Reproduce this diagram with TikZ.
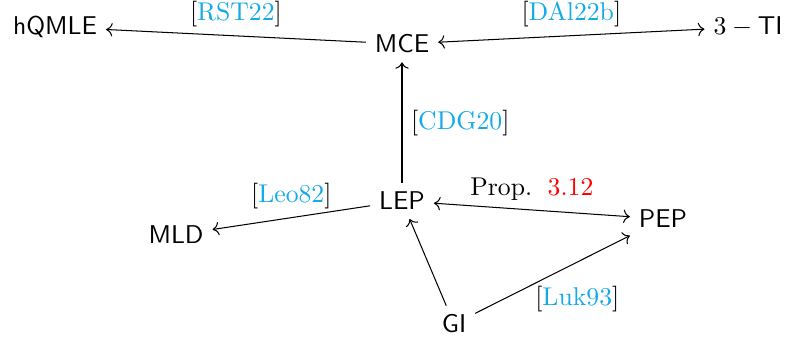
\documentclass[tikz,border=0pt]{standalone}
\usetikzlibrary{arrows.meta}
\definecolor{citeblue}{RGB}{20,170,230}
\newcommand\cit[1]{[\textcolor{citeblue}{#1}]}
\begin{document}
\begin{tikzpicture}[x=0.389pt,y=-0.389pt,
  obj/.style={font=\sffamily},
  lbl/.style={font=\rmfamily},
  link/.style={->},
  dlink/.style={<->}]
\useasboundingbox (0,0) rectangle (785,339);
% concepts
\node[obj] (hqmle) at (55,27)  {hQMLE};
\node[obj] (mce)   at (402,44) {MCE};
\node[obj] (ti)    at (748,27) {$3-\mathsf{TI}$};
\node[obj] (lep)   at (402,201) {LEP};
\node[obj] (mld)   at (176,235) {MLD};
\node[obj] (pep)   at (663,219) {PEP};
\node[obj] (gi)    at (454,324) {GI};
% implications
\draw[link] (mce) -- node[lbl, above] (l1) {\cit{RST22}} (hqmle);
\draw[dlink] (mce) -- node[lbl, above] (l2) {\cit{DAl22b}} (ti);
\draw[link] (lep) -- node[lbl, right] (l3) {\cit{CDG20}} (mce);
\draw[link] (lep) -- node[lbl, above] (l4) {\cit{Leo82}} (mld);
\draw[dlink] (lep) -- node[lbl, above] (l5) {Prop.\hspace{6pt}\textcolor{red}{3.12}} (pep);
\draw[link] (gi) -- (lep);
\draw[link] (gi) -- node[lbl, pos=0.38, below right, xshift=-3pt, yshift=2.7pt] (l6) {\cit{Luk93}} (pep);
\end{tikzpicture}
\end{document}
